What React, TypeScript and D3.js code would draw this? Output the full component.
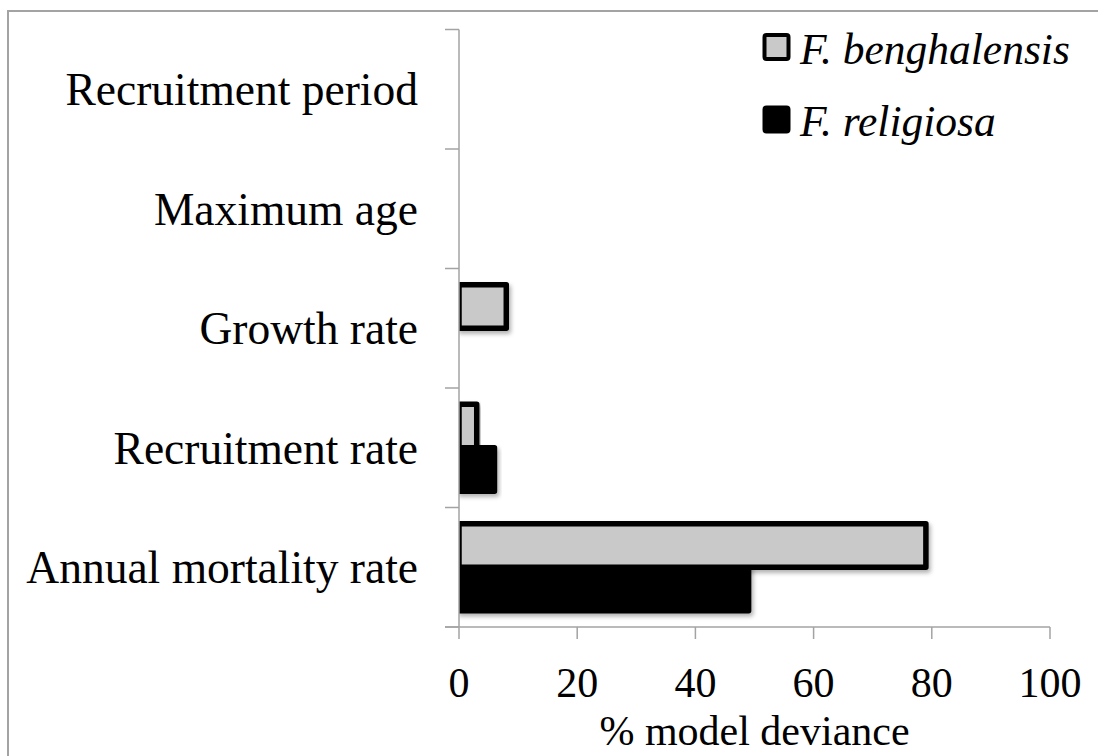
import React from "react";
import * as d3 from "d3";

const categories = [
  "Recruitment period",
  "Maximum age",
  "Growth rate",
  "Recruitment rate",
  "Annual mortality rate",
];
const seriesNames = ["F. benghalensis", "F. religiosa"];
const benghalensis = [0, 0, 8, 3, 79];
const religiosa = [0, 0, 0, 6, 49];
const xTicks = [0, 20, 40, 60, 80, 100];
const xTitle = "% model deviance";

const W = 1098;
const H = 756;
const FONT = "'Liberation Serif', 'Times New Roman', serif";

export default function App() {
  const x = d3.scaleLinear().domain([0, 100]).range([459, 1050]);
  const y = d3.scaleBand<string>().domain(categories).range([29.5, 627]).padding(0);
  const bw = y.bandwidth();
  const sub = d3
    .scaleBand<string>()
    .domain(seriesNames)
    .range([0.136 * bw, 0.864 * bw])
    .padding(0);
  const fills = ["#c9c9c9", "#000000"];
  const seriesVals = [benghalensis, religiosa];
  const axisColor = "#a3a3a3";
  const sw = 5.5;

  return (
    <svg
      width={W}
      height={H}
      style={{ position: "absolute", left: 0, top: 0, background: "#fff" }}
      fontFamily={FONT}
    >
      <defs>
        <filter id="shadow" x="-10%" y="-20%" width="130%" height="160%">
          <feDropShadow dx="2" dy="3" stdDeviation="2" floodColor="#000" floodOpacity="0.3" />
        </filter>
        <clipPath id="plotClip">
          <rect x={459} y={0} width={700} height={700} />
        </clipPath>
      </defs>
      <rect x={8} y={11} width={W + 20} height={H + 20} fill="#fff" stroke="#a3a3a3" strokeWidth={2} />

      {/* bars: draw religiosa first, then benghalensis on top */}
      <g clipPath="url(#plotClip)">
        {[1, 0].map((si) =>
          categories.map((c, ci) => {
            const v = seriesVals[si][ci];
            if (!v) return null;
            const y0 = (y(c) as number) + (sub(seriesNames[si]) as number);
            return (
              <rect
                key={`${si}-${ci}`}
                x={x(0)}
                y={y0}
                width={x(v) - x(0)}
                height={sub.bandwidth()}
                fill={fills[si]}
                stroke="#000"
                strokeWidth={sw}
                strokeLinejoin="round"
                filter="url(#shadow)"
              />
            );
          })
        )}
      </g>

      {/* y axis */}
      <line x1={459} x2={459} y1={29.5} y2={627} stroke={axisColor} strokeWidth={1.5} />
      {[...categories.map((c) => y(c) as number), 627].map((t, i) => (
        <line key={i} x1={445} x2={459} y1={t} y2={t} stroke={axisColor} strokeWidth={1.5} />
      ))}
      {categories.map((c) => (
        <text
          key={c}
          x={418}
          y={(y(c) as number) + bw / 2 + 16}
          textAnchor="end"
          fontSize={45.5}
          fill="#000"
        >
          {c}
        </text>
      ))}

      {/* x axis */}
      <line x1={445} x2={1050} y1={627} y2={627} stroke={axisColor} strokeWidth={1.5} />
      {xTicks.map((t) => (
        <g key={t}>
          <line x1={x(t)} x2={x(t)} y1={627} y2={639} stroke={axisColor} strokeWidth={1.5} />
          <text x={x(t)} y={697} textAnchor="middle" fontSize={42} fill="#000">
            {t}
          </text>
        </g>
      ))}
      <text x={(x(0) + x(100)) / 2} y={745} textAnchor="middle" fontSize={42} fill="#000">
        {xTitle}
      </text>

      {/* legend */}
      {seriesNames.map((s, i) => (
        <g key={s}>
          <rect
            x={764.5}
            y={35 + i * 72.5}
            width={24}
            height={24}
            rx={2}
            fill={fills[i]}
            stroke="#000"
            strokeWidth={4}
          />
          <text x={800} y={64 + i * 72} fontSize={43.5} fontStyle="italic" fill="#000">
            {s}
          </text>
        </g>
      ))}
    </svg>
  );
}
